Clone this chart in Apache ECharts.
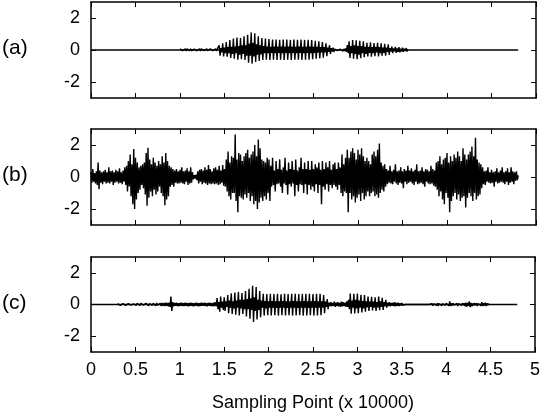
<!DOCTYPE html>
<html>
<head>
<meta charset="utf-8">
<script src="https://cdn.jsdelivr.net/npm/echarts@6/dist/echarts.min.js"></script>
<style>html,body{margin:0;padding:0;background:#fff}#c{width:543px;height:413px}</style>
</head>
<body>
<div id="c"></div>
<script>
// x in units of 10000 samples; each wave array holds one value every 0.01, starting at its start position
var xStep = 0.01;
var xEnd = 4.8;           // recordings end here (flat baseline runs 0 .. xEnd)
var panelLabels = ['(a)', '(b)', '(c)'];
var yTicks = [-2, 0, 2];
var xTitle = 'Sampling Point (x 10000)';

var waveAStart = 1.0;
var waveA = [
0.07,-0.05,0.08,-0.04,0.06,-0.05,0.08,-0.06,0.07,-0.04,
0.06,-0.05,0.08,-0.05,0.07,-0.04,0.06,-0.05,0.08,-0.05,
0.07,-0.04,0.08,-0.06,0.07,-0.05,0.06,-0.04,0.07,-0.05,
0.08,-0.05,0.07,-0.06,0.08,-0.04,0.07,-0.05,0.06,-0.05,
0.08,-0.06,0.07,-0.05,0.3,-0.35,0.12,-0.15,0.42,-0.4,
0.15,-0.2,0.5,-0.42,0.18,-0.2,0.62,-0.5,0.2,-0.25,
0.72,-0.55,0.22,-0.2,0.78,-0.6,0.25,-0.3,0.75,-0.58,
0.3,-0.25,0.85,-0.62,0.3,-0.35,0.95,-0.8,0.4,-0.35,
1.1,-0.85,0.45,-0.4,1.05,-0.75,0.35,-0.3,0.85,-0.68,
0.3,-0.28,0.75,-0.62,0.25,-0.2,0.72,-0.6,0.22,-0.2,
0.68,-0.62,0.2,-0.18,0.66,-0.6,0.22,-0.2,0.65,-0.62,
0.2,-0.18,0.64,-0.6,0.22,-0.2,0.66,-0.62,0.2,-0.18,
0.65,-0.6,0.22,-0.2,0.63,-0.62,0.2,-0.18,0.66,-0.61,
0.2,-0.2,0.64,-0.6,0.22,-0.18,0.65,-0.62,0.2,-0.2,
0.63,-0.6,0.2,-0.18,0.64,-0.6,0.22,-0.2,0.62,-0.58,
0.2,-0.18,0.58,-0.55,0.2,-0.16,0.55,-0.52,0.18,-0.15,
0.5,-0.48,0.18,-0.15,0.42,-0.38,0.15,-0.12,0.3,-0.25,
0.12,-0.1,0.15,-0.12,0.06,-0.05,0.1,-0.04,0.08,-0.12,
0.06,-0.05,0.12,-0.08,0.07,-0.06,0.1,-0.12,0.3,-0.2,
0.55,-0.5,0.25,-0.2,0.62,-0.55,0.3,-0.25,0.6,-0.58,
0.25,-0.3,0.58,-0.52,0.25,-0.2,0.55,-0.45,0.2,-0.25,
0.45,-0.4,0.2,-0.18,0.48,-0.42,0.18,-0.2,0.44,-0.38,
0.2,-0.15,0.45,-0.4,0.18,-0.2,0.42,-0.36,0.15,-0.18,
0.38,-0.35,0.15,-0.12,0.35,-0.3,0.12,-0.1,0.22,-0.2,
0.1,-0.08,0.2,-0.18,0.1,-0.12,0.18,-0.15,0.08,-0.1,
0.15,-0.12,0.08,-0.06,0.12,-0.1,0.06
];

var waveBStart = 0.0;
var waveB = [
0.3,-0.35,0.5,-0.3,0.25,-0.4,0.35,-0.5,0.9,-0.77,
0.4,-0.35,0.3,-0.45,0.35,-0.3,0.45,-0.4,0.3,-0.35,
0.6,-0.4,0.35,-0.3,0.4,-0.5,0.3,-0.35,0.45,-0.3,
0.35,-0.4,0.55,-0.35,0.3,-0.45,0.4,-0.3,0.6,-0.5,
0.7,-0.9,1.0,-0.6,1.4,-1.2,0.8,-1.7,1.75,-2.0,
1.2,-1.4,0.9,-1.0,0.6,-0.8,0.7,-0.5,0.8,-0.7,
0.9,-1.1,1.5,-1.8,1.83,-1.3,1.1,-0.9,0.8,-1.2,
1.2,-0.8,0.9,-1.1,0.7,-0.9,1.0,-0.6,0.8,-1.0,
1.3,-1.2,0.9,-1.77,1.5,-1.4,1.0,-1.2,0.7,-0.6,
0.6,-0.5,0.5,-0.6,0.4,-0.35,0.5,-0.4,0.35,-0.4,
0.45,-0.35,0.6,-0.4,0.35,-0.45,0.4,-0.3,0.55,-0.5,
0.35,-0.4,0.6,-0.35,0.3,-0.15,0.12,-0.1,0.15,-0.2,
0.35,-0.4,0.45,-0.3,0.5,-0.45,0.4,-0.35,0.6,-0.4,
0.45,-0.5,0.75,-0.4,0.5,-0.45,0.35,-0.4,0.55,-0.45,
0.6,-0.4,0.45,-0.5,0.7,-0.45,0.4,-0.35,0.75,-0.55,
0.5,-0.6,1.1,-0.9,1.6,-1.2,0.9,-1.4,1.3,-1.0,
1.2,-1.0,2.65,-1.5,1.1,-2.2,1.5,-1.2,1.4,-1.3,
1.0,-1.4,1.3,-1.1,1.5,-1.3,1.7,-1.0,1.2,-1.5,
1.4,-1.2,1.6,-1.7,2.0,-1.5,1.3,-2.0,2.35,-1.6,
1.8,-1.3,1.1,-1.5,1.0,-1.2,0.9,-1.4,1.2,-1.0,
1.1,-1.5,0.7,-0.6,1.2,-0.5,0.4,-0.9,1.0,-0.45,
0.5,-0.4,1.1,-0.6,0.45,-1.0,0.6,-0.4,1.2,-0.5,
0.4,-1.1,0.9,-0.45,0.5,-0.6,1.0,-0.4,0.45,-1.2,
1.1,-0.5,0.4,-0.9,0.6,-0.45,1.2,-0.5,0.5,-1.0,
0.9,-0.45,0.5,-1.1,1.0,-0.5,0.45,-0.8,1.0,-0.6,
0.5,-0.9,0.8,-0.45,0.6,-1.0,0.9,-0.5,0.45,-1.7,
1.0,-0.6,0.5,-0.8,0.9,-0.45,0.6,-0.9,1.0,-0.5,
0.45,-0.7,0.8,-0.5,0.9,-0.6,0.5,-0.8,0.9,-0.5,
0.6,-1.0,1.4,-1.2,0.8,-0.9,1.2,-1.0,1.7,-2.2,
1.2,-1.0,1.6,-1.4,1.8,-1.2,1.5,-1.6,1.1,-1.3,
1.7,-1.1,1.4,-1.5,1.8,-1.0,1.3,-1.4,1.0,-1.2,
1.2,-0.9,1.0,-1.2,0.8,-1.0,1.4,-0.9,1.6,-1.2,
1.3,-1.1,1.7,-1.3,2.1,-1.0,0.9,-0.8,0.7,-0.9,
0.8,-0.6,0.5,-0.45,0.4,-0.35,0.7,-0.4,0.35,-0.45,
0.45,-0.3,0.8,-0.4,0.35,-0.5,0.4,-0.35,0.6,-0.4,
0.35,-0.7,0.5,-0.3,0.4,-0.45,0.7,-0.35,0.4,-0.3,
0.55,-0.4,0.35,-0.5,0.45,-0.3,0.8,-0.45,0.35,-0.4,
0.4,-0.35,0.6,-0.45,0.35,-0.6,0.5,-0.3,0.45,-0.4,
0.35,-0.45,0.7,-0.4,0.5,-0.55,0.4,-0.6,0.9,-0.8,
1.0,-1.2,1.3,-0.9,0.8,-1.4,1.1,-1.7,1.2,-1.0,
1.5,-1.3,0.9,-2.2,1.3,-1.5,1.0,-1.2,1.4,-1.0,
1.2,-1.4,1.6,-1.1,1.3,-1.5,1.0,-1.3,1.8,-1.2,
1.4,-1.9,1.1,-1.3,1.4,-1.0,1.6,-1.2,1.9,-1.5,
1.3,-1.0,2.45,-1.4,1.1,-1.2,0.9,-1.1,0.8,-0.7,
0.6,-0.45,0.35,-0.5,0.4,-0.3,0.6,-0.35,0.3,-0.4,
0.45,-0.35,0.3,-0.6,0.35,-0.3,0.55,-0.4,0.3,-0.35,
0.4,-0.3,0.6,-0.35,0.3,-0.45,0.35,-0.3,0.55,-0.5,
0.3,-0.35,0.6,-0.3,0.35,-0.45,0.3,-0.25,0.35,-0.2,
0.1
];

var waveCStart = 0.3;
var waveC = [
0.06,-0.04,0.05,-0.05,0.07,-0.03,0.05,-0.04,0.06,-0.05,
0.05,-0.04,0.06,-0.05,0.07,-0.04,0.05,-0.06,0.04,-0.05,
0.06,-0.05,0.08,-0.04,0.05,-0.06,0.07,-0.05,0.06,-0.04,
0.05,-0.06,0.07,-0.05,0.1,-0.08,0.06,-0.05,0.08,-0.06,
0.07,-0.05,0.06,-0.08,0.09,-0.05,0.07,-0.06,0.08,-0.1,
0.1,-0.08,0.09,-0.1,0.12,-0.09,0.1,-0.12,0.11,-0.15,
0.5,-0.4,0.15,-0.12,0.1,-0.08,0.12,-0.1,0.09,-0.11,
0.1,-0.08,0.12,-0.1,0.09,-0.1,0.11,-0.08,0.1,-0.12,
0.09,-0.1,0.12,-0.08,0.1,-0.11,0.09,-0.1,0.12,-0.09,
0.1,-0.12,0.08,-0.1,0.11,-0.09,0.1,-0.08,0.12,-0.1,
0.09,-0.11,0.1,-0.08,0.12,-0.1,0.09,-0.12,0.11,-0.1,
0.15,-0.12,0.4,-0.3,0.15,-0.45,0.5,-0.2,0.18,-0.35,
0.45,-0.4,0.2,-0.15,0.6,-0.55,0.25,-0.2,0.7,-0.6,
0.2,-0.25,0.75,-0.65,0.25,-0.2,0.78,-0.7,0.3,-0.25,
0.72,-0.6,0.3,-0.3,0.85,-0.75,0.35,-0.3,1.0,-0.9,
0.4,-0.35,1.19,-1.1,0.45,-0.4,1.1,-0.95,0.3,-0.35,
0.85,-0.8,0.25,-0.2,0.68,-0.7,0.22,-0.25,0.66,-0.68,
0.2,-0.2,0.67,-0.69,0.22,-0.2,0.66,-0.68,0.2,-0.22,
0.67,-0.7,0.2,-0.2,0.65,-0.68,0.22,-0.2,0.67,-0.69,
0.2,-0.22,0.66,-0.68,0.2,-0.2,0.68,-0.7,0.22,-0.2,
0.67,-0.69,0.2,-0.22,0.66,-0.68,0.2,-0.2,0.67,-0.7,
0.22,-0.2,0.68,-0.69,0.2,-0.22,0.67,-0.68,0.2,-0.2,
0.66,-0.7,0.22,-0.2,0.68,-0.69,0.2,-0.2,0.67,-0.68,
0.2,-0.2,0.6,-0.55,0.18,-0.15,0.35,-0.3,0.12,-0.1,
0.15,-0.12,0.1,-0.08,0.18,-0.15,0.12,-0.1,0.15,-0.12,
0.1,-0.14,0.18,-0.12,0.15,-0.1,0.12,-0.15,0.2,-0.15,
0.3,-0.3,0.7,-0.58,0.25,-0.2,0.68,-0.56,0.3,-0.25,
0.7,-0.55,0.25,-0.2,0.62,-0.5,0.22,-0.25,0.6,-0.45,
0.2,-0.18,0.5,-0.4,0.2,-0.15,0.48,-0.38,0.18,-0.2,
0.45,-0.4,0.15,-0.18,0.5,-0.36,0.2,-0.15,0.42,-0.35,
0.15,-0.12,0.3,-0.2,0.12,-0.1,0.15,-0.12,0.1,-0.08,
0.12,-0.1,0.15,-0.12,0.1,-0.08,0.12,-0.1,0.08,-0.06,
0.1,-0.06,0,0,0,0,0,0,0,0,
0,0,0,0,0,0,0,0,0,0,
0,0,0,0,0,0,0,0,0,0,
0,0,0,0,0.06,-0.08,0.05,-0.06,0.04,-0.05,
0.08,-0.1,0.06,-0.05,0.1,-0.08,0.06,-0.05,0.08,-0.06,
0.07,-0.05,0.09,-0.08,0.2,-0.1,0.07,-0.06,0.08,-0.05,
0.06,-0.05,0.08,-0.1,0.06,-0.05,0.07,-0.06,0.08,-0.05,
0.08,-0.1,0.12,-0.15,0.1,-0.08,0.2,-0.17,0.1,-0.12,
0.07,-0.06,0.09,-0.05,0.08,-0.1,0.06,-0.05,0.1,-0.08,
0.15,-0.1,0.08,-0.06,0.12,-0.1,0.08,-0.05,0.06
];

var waves = [waveA, waveB, waveC];
var starts = [waveAStart, waveBStart, waveCStart];
var FONT = "'Liberation Sans', Arial, sans-serif";
var gridTops = [2, 129, 257];
var gridH = 96;
var labelMidY = [50, 177, 305];

var chart = echarts.init(document.getElementById('c'), null, {renderer: 'canvas'});
var grids = [], xAxes = [], yAxes = [], series = [], graphics = [];
var lineCfg = {show: true, onZero: false, lineStyle: {color: '#000', width: 1.5}};
var tickCfg = {show: true, inside: true, length: 5, lineStyle: {color: '#000', width: 1}};

waves.forEach(function (w, k) {
  grids.push({left: 91, right: 7, top: gridTops[k], height: gridH});
  var isLast = k === waves.length - 1;
  xAxes.push({
    type: 'value', gridIndex: k, position: 'bottom', min: 0, max: 5, interval: 0.5,
    axisLine: lineCfg, axisTick: tickCfg, splitLine: {show: false},
    axisLabel: {show: isLast, margin: 9, color: '#000', fontSize: 18, fontFamily: FONT},
    name: isLast ? xTitle : '', nameLocation: 'middle', nameGap: 42,
    nameTextStyle: {color: '#000', fontSize: 18, fontFamily: FONT}
  });
  xAxes.push({
    type: 'value', gridIndex: k, position: 'top', min: 0, max: 5, interval: 0.5,
    axisLine: lineCfg, axisTick: tickCfg, splitLine: {show: false}, axisLabel: {show: false}
  });
  yAxes.push({
    type: 'value', gridIndex: k, position: 'left', min: -3, max: 3,
    axisLine: lineCfg,
    axisTick: Object.assign({customValues: yTicks}, tickCfg),
    splitLine: {show: false},
    axisLabel: {customValues: yTicks, margin: 11, color: '#000', fontSize: 18, fontFamily: FONT}
  });
  yAxes.push({
    type: 'value', gridIndex: k, position: 'right', min: -3, max: 3,
    axisLine: lineCfg,
    axisTick: Object.assign({customValues: yTicks}, tickCfg),
    splitLine: {show: false}, axisLabel: {show: false}
  });
  // flat baseline of the recording
  series.push({
    type: 'line', xAxisIndex: 2 * k, yAxisIndex: 2 * k,
    data: [[0, 0], [xEnd, 0]], showSymbol: false, symbol: 'none',
    lineStyle: {color: '#000', width: 1.5}, animation: false, silent: true
  });
  var s0 = starts[k];
  series.push({
    type: 'line', xAxisIndex: 2 * k, yAxisIndex: 2 * k,
    data: w.map(function (v, i) { return [s0 + i * xStep, v]; }),
    showSymbol: false, symbol: 'none', sampling: null,
    lineStyle: {color: '#000', width: 1.4}, animation: false, silent: true
  });
  graphics.push({
    type: 'text', left: 2, top: labelMidY[k] - 12,
    style: {text: panelLabels[k], fill: '#000', font: '21px ' + FONT}
  });
});

chart.setOption({
  animation: false,
  backgroundColor: '#fff',
  grid: grids, xAxis: xAxes, yAxis: yAxes, series: series, graphic: graphics
});
</script>
</body>
</html>
